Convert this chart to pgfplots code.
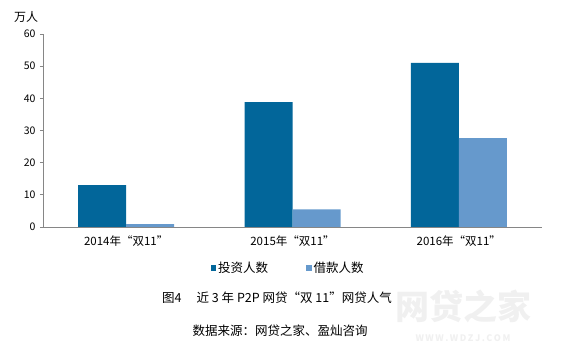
\documentclass[border=0pt]{standalone}
\usepackage{fontspec}
\setmainfont{Noto Sans CJK SC}
\usepackage{pgfplots}
\pgfplotsset{compat=1.18}
\definecolor{darkb}{HTML}{02669A}
\definecolor{lightb}{HTML}{6699CC}
\definecolor{axgray}{HTML}{868686}
\newcommand\lqq{\makebox[1em][r]{“}}
\newcommand\rqq{\makebox[1em][l]{”}}
\begin{document}
\begin{tikzpicture}[x=1pt,y=1pt]
\path[use as bounding box] (0,0) rectangle (562,353);
% watermark
\node[text=black!6, font=\fontsize{34}{36}\selectfont\bfseries] at (463,47) {网贷之家};
\node[text=black!6, font=\fontsize{9}{10}\selectfont\bfseries] at (463,15) {W\,W\,W\,.\,W\,D\,Z\,J\,.\,C\,O\,M};
\begin{axis}[
  at={(43pt,126pt)}, anchor=south west,
  scale only axis, width=499pt, height=193pt,
  xmin=0, xmax=3, ymin=0, ymax=60,
  ytick={0,10,...,60},
  axis x line*=bottom, axis y line*=left,
  axis line style={draw=axgray, line width=0.8pt, -},
  tick style={draw=axgray, line width=0.8pt},
  tick align=outside, major tick length=3pt,
  xtick={0.5,1.5,2.5},
  xticklabels={2014年\lqq 双11\rqq,2015年\lqq 双11\rqq,2016年\lqq 双11\rqq},
  x tick style={draw=none},
  extra x ticks={0,1,2,3},
  extra x tick labels={},
  extra x tick style={tick style={draw=axgray, line width=0.8pt}, major tick length=4pt},
  /pgf/number format/assume math mode=true,
  yticklabel style={font=\fontsize{10.5}{12}\selectfont, xshift=-1pt},
  xticklabel style={font=\fontsize{11.5}{13}\selectfont, yshift=-2pt},
  ybar=0pt, bar width=48pt,
  legend style={at={(0.491,-0.212)}, anchor=center, legend columns=2, draw=none,
    font=\fontsize{12.5}{14}\selectfont,
    /tikz/every even column/.append style={column sep=36pt}},
  legend image code/.code={\fill[#1] (0pt,-3pt) rectangle (5.5pt,2.5pt);},
]
\addplot[fill=darkb, draw=none] coordinates {(0.5,13.0) (1.5,38.8) (2.5,51.0)};
\addplot[fill=lightb, draw=none] coordinates {(0.5,0.9) (1.5,5.5) (2.5,27.6)};
\legend{投资人数,借款人数}
\end{axis}
\node[font=\fontsize{12}{14}\selectfont] at (26,336) {万人};
\node[font=\fontsize{12.5}{14}\selectfont] at (277,55) {图4\hspace{1.2em}近 3 年 P2P 网贷\lqq 双 11\rqq 网贷人气};
\node[font=\fontsize{12.5}{14}\selectfont] at (280,22) {数据来源：网贷之家、盈灿咨询};
\end{tikzpicture}
\end{document}
